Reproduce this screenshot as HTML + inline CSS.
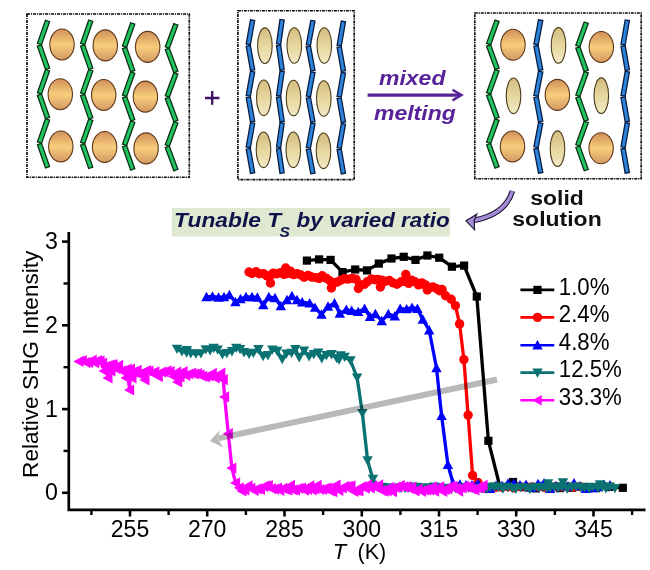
<!DOCTYPE html>
<html><head><meta charset="utf-8"><style>
html,body{margin:0;padding:0;background:#fff;width:650px;height:570px;overflow:hidden}
svg{display:block}
text{font-family:"Liberation Sans",sans-serif}
</style></head><body>
<svg width="650" height="570" viewBox="0 0 650 570"><defs>
<linearGradient id="gor" x1="0" y1="0" x2="0" y2="1">
<stop offset="0" stop-color="#d08f58"/><stop offset="0.5" stop-color="#f7cd7c"/><stop offset="1" stop-color="#d39862"/></linearGradient>
<linearGradient id="gbe" x1="0" y1="0" x2="0" y2="1">
<stop offset="0" stop-color="#d3bc80"/><stop offset="0.55" stop-color="#e8d9a2"/><stop offset="1" stop-color="#f2e9c6"/></linearGradient>
</defs><rect x="27" y="14" width="162.3" height="163.2" fill="none" stroke="#0a0a0a" stroke-width="1.65" stroke-dasharray="3 0.9 1.2 0.9"/>
<polygon points="45.5,20.2 37.4,43.4 41.5,44.8 49.6,21.6" fill="#22c462" stroke="#0a3014" stroke-width="1.3"/>
<polygon points="37.4,46.2 45.5,69.5 49.6,68 41.5,44.8" fill="#22c462" stroke="#0a3014" stroke-width="1.3"/>
<polygon points="45.5,69.5 37.4,92.7 41.5,94.1 49.6,70.9" fill="#22c462" stroke="#0a3014" stroke-width="1.3"/>
<polygon points="37.4,95.5 45.5,118.7 49.6,117.3 41.5,94.1" fill="#22c462" stroke="#0a3014" stroke-width="1.3"/>
<polygon points="45.5,118.7 37.4,141.9 41.5,143.4 49.6,120.1" fill="#22c462" stroke="#0a3014" stroke-width="1.3"/>
<polygon points="37.4,144.8 45.5,168 49.6,166.6 41.5,143.3" fill="#22c462" stroke="#0a3014" stroke-width="1.3"/>
<polygon points="88.7,20 80.6,43.3 84.7,44.7 92.8,21.4" fill="#22c462" stroke="#0a3014" stroke-width="1.3"/>
<polygon points="80.6,46.2 88.7,69.5 92.8,68.1 84.7,44.8" fill="#22c462" stroke="#0a3014" stroke-width="1.3"/>
<polygon points="88.7,69.5 80.6,92.8 84.7,94.2 92.8,70.9" fill="#22c462" stroke="#0a3014" stroke-width="1.3"/>
<polygon points="80.6,95.7 88.7,119 92.8,117.6 84.7,94.3" fill="#22c462" stroke="#0a3014" stroke-width="1.3"/>
<polygon points="88.7,119 80.6,142.3 84.7,143.7 92.8,120.4" fill="#22c462" stroke="#0a3014" stroke-width="1.3"/>
<polygon points="80.6,145.2 88.7,168.5 92.8,167.1 84.7,143.8" fill="#22c462" stroke="#0a3014" stroke-width="1.3"/>
<polygon points="130.7,22.7 122.5,45.8 126.6,47.3 134.8,24.1" fill="#22c462" stroke="#0a3014" stroke-width="1.3"/>
<polygon points="122.5,48.7 130.7,71.9 134.8,70.4 126.6,47.3" fill="#22c462" stroke="#0a3014" stroke-width="1.3"/>
<polygon points="130.7,71.8 122.5,95 126.6,96.4 134.8,73.3" fill="#22c462" stroke="#0a3014" stroke-width="1.3"/>
<polygon points="122.5,97.8 130.7,121 134.8,119.6 126.6,96.4" fill="#22c462" stroke="#0a3014" stroke-width="1.3"/>
<polygon points="130.7,121 122.5,144.1 126.6,145.6 134.8,122.4" fill="#22c462" stroke="#0a3014" stroke-width="1.3"/>
<polygon points="122.5,147 130.7,170.1 134.8,168.7 126.6,145.5" fill="#22c462" stroke="#0a3014" stroke-width="1.3"/>
<polygon points="173.9,23.6 165.3,46.7 169.3,48.3 177.9,25.2" fill="#22c462" stroke="#0a3014" stroke-width="1.3"/>
<polygon points="165.3,49.7 173.9,72.8 177.9,71.2 169.3,48.1" fill="#22c462" stroke="#0a3014" stroke-width="1.3"/>
<polygon points="173.9,72.6 165.3,95.7 169.3,97.3 177.9,74.2" fill="#22c462" stroke="#0a3014" stroke-width="1.3"/>
<polygon points="165.3,98.7 173.9,121.8 177.9,120.2 169.3,97.1" fill="#22c462" stroke="#0a3014" stroke-width="1.3"/>
<polygon points="173.9,121.6 165.3,144.7 169.3,146.3 177.9,123.2" fill="#22c462" stroke="#0a3014" stroke-width="1.3"/>
<polygon points="165.3,147.7 173.9,170.8 177.9,169.2 169.3,146.1" fill="#22c462" stroke="#0a3014" stroke-width="1.3"/>
<ellipse cx="62" cy="44.5" rx="12.2" ry="15.5" fill="url(#gor)" stroke="#5e3719" stroke-width="1.1"/>
<ellipse cx="105.3" cy="45.4" rx="12.2" ry="15.5" fill="url(#gor)" stroke="#5e3719" stroke-width="1.1"/>
<ellipse cx="147.7" cy="46.9" rx="12.2" ry="15.5" fill="url(#gor)" stroke="#5e3719" stroke-width="1.1"/>
<ellipse cx="60.3" cy="94.2" rx="12.2" ry="15.5" fill="url(#gor)" stroke="#5e3719" stroke-width="1.1"/>
<ellipse cx="103.7" cy="95" rx="12.2" ry="15.5" fill="url(#gor)" stroke="#5e3719" stroke-width="1.1"/>
<ellipse cx="145.4" cy="96.6" rx="12.2" ry="15.5" fill="url(#gor)" stroke="#5e3719" stroke-width="1.1"/>
<ellipse cx="60.8" cy="146.5" rx="12.2" ry="15.5" fill="url(#gor)" stroke="#5e3719" stroke-width="1.1"/>
<ellipse cx="104.6" cy="147" rx="12.2" ry="15.5" fill="url(#gor)" stroke="#5e3719" stroke-width="1.1"/>
<ellipse cx="146.1" cy="148.4" rx="12.2" ry="15.5" fill="url(#gor)" stroke="#5e3719" stroke-width="1.1"/>
<rect x="237.9" y="10.7" width="116.3" height="168.9" fill="none" stroke="#0a0a0a" stroke-width="1.65" stroke-dasharray="3 0.9 1.2 0.9"/>
<polygon points="250.5,19.8 246.2,44 250.4,44.8 254.7,20.5" fill="#2d84dc" stroke="#081c40" stroke-width="1.3"/>
<polygon points="246.2,46.2 250.5,70.5 254.7,69.8 250.4,45.5" fill="#2d84dc" stroke="#081c40" stroke-width="1.3"/>
<polygon points="250.5,71.2 246.2,95.5 250.4,96.2 254.7,72" fill="#2d84dc" stroke="#081c40" stroke-width="1.3"/>
<polygon points="246.2,97.7 250.5,122 254.7,121.2 250.4,97" fill="#2d84dc" stroke="#081c40" stroke-width="1.3"/>
<polygon points="250.5,122.7 246.2,146.9 250.4,147.7 254.7,123.4" fill="#2d84dc" stroke="#081c40" stroke-width="1.3"/>
<polygon points="246.2,149.2 250.5,173.4 254.7,172.7 250.4,148.4" fill="#2d84dc" stroke="#081c40" stroke-width="1.3"/>
<polygon points="280,19.4 276.5,43.8 280.7,44.4 284.2,20" fill="#2d84dc" stroke="#081c40" stroke-width="1.3"/>
<polygon points="276.5,45.8 280,70.2 284.2,69.6 280.7,45.2" fill="#2d84dc" stroke="#081c40" stroke-width="1.3"/>
<polygon points="280,71 276.5,95.4 280.7,96 284.2,71.6" fill="#2d84dc" stroke="#081c40" stroke-width="1.3"/>
<polygon points="276.5,97.4 280,121.8 284.2,121.2 280.7,96.8" fill="#2d84dc" stroke="#081c40" stroke-width="1.3"/>
<polygon points="280,122.6 276.5,147 280.7,147.6 284.2,123.2" fill="#2d84dc" stroke="#081c40" stroke-width="1.3"/>
<polygon points="276.5,149 280,173.4 284.2,172.8 280.7,148.4" fill="#2d84dc" stroke="#081c40" stroke-width="1.3"/>
<polygon points="310.8,20.4 306.3,44.6 310.5,45.3 315,21.1" fill="#2d84dc" stroke="#081c40" stroke-width="1.3"/>
<polygon points="306.3,46.8 310.8,71 315,70.3 310.5,46.1" fill="#2d84dc" stroke="#081c40" stroke-width="1.3"/>
<polygon points="310.8,71.8 306.3,96 310.5,96.7 315,72.5" fill="#2d84dc" stroke="#081c40" stroke-width="1.3"/>
<polygon points="306.3,98.2 310.8,122.4 315,121.7 310.5,97.5" fill="#2d84dc" stroke="#081c40" stroke-width="1.3"/>
<polygon points="310.8,123.2 306.3,147.4 310.5,148.1 315,123.9" fill="#2d84dc" stroke="#081c40" stroke-width="1.3"/>
<polygon points="306.3,149.6 310.8,173.8 315,173.1 310.5,148.9" fill="#2d84dc" stroke="#081c40" stroke-width="1.3"/>
<polygon points="341.3,21.1 337.1,45.2 341.3,45.9 345.5,21.8" fill="#2d84dc" stroke="#081c40" stroke-width="1.3"/>
<polygon points="337.1,47.4 341.3,71.5 345.5,70.8 341.3,46.7" fill="#2d84dc" stroke="#081c40" stroke-width="1.3"/>
<polygon points="341.3,72.3 337.1,96.4 341.3,97.1 345.5,73" fill="#2d84dc" stroke="#081c40" stroke-width="1.3"/>
<polygon points="337.1,98.6 341.3,122.7 345.5,122 341.3,97.9" fill="#2d84dc" stroke="#081c40" stroke-width="1.3"/>
<polygon points="341.3,123.5 337.1,147.6 341.3,148.3 345.5,124.2" fill="#2d84dc" stroke="#081c40" stroke-width="1.3"/>
<polygon points="337.1,149.8 341.3,173.9 345.5,173.2 341.3,149.1" fill="#2d84dc" stroke="#081c40" stroke-width="1.3"/>
<ellipse cx="264.9" cy="45.7" rx="7.3" ry="17.8" fill="url(#gbe)" stroke="#4a3a1a" stroke-width="1.1"/>
<ellipse cx="294.3" cy="45.5" rx="7.3" ry="17.8" fill="url(#gbe)" stroke="#4a3a1a" stroke-width="1.1"/>
<ellipse cx="324.3" cy="45.5" rx="7.3" ry="17.8" fill="url(#gbe)" stroke="#4a3a1a" stroke-width="1.1"/>
<ellipse cx="263.8" cy="97.8" rx="7.3" ry="17.8" fill="url(#gbe)" stroke="#4a3a1a" stroke-width="1.1"/>
<ellipse cx="293.5" cy="98" rx="7.3" ry="17.8" fill="url(#gbe)" stroke="#4a3a1a" stroke-width="1.1"/>
<ellipse cx="323.8" cy="98.5" rx="7.3" ry="17.8" fill="url(#gbe)" stroke="#4a3a1a" stroke-width="1.1"/>
<ellipse cx="263.5" cy="149.8" rx="7.3" ry="17.8" fill="url(#gbe)" stroke="#4a3a1a" stroke-width="1.1"/>
<ellipse cx="293.3" cy="149.8" rx="7.3" ry="17.8" fill="url(#gbe)" stroke="#4a3a1a" stroke-width="1.1"/>
<ellipse cx="323.5" cy="150.8" rx="7.3" ry="17.8" fill="url(#gbe)" stroke="#4a3a1a" stroke-width="1.1"/>
<rect x="474.8" y="13" width="166.4" height="165.7" fill="none" stroke="#0a0a0a" stroke-width="1.65" stroke-dasharray="3 0.9 1.2 0.9"/>
<polygon points="495,20.1 486.6,43.3 490.7,44.8 499.1,21.5" fill="#22c462" stroke="#0a3014" stroke-width="1.3"/>
<polygon points="486.6,46.2 495,69.5 499.1,68 490.7,44.8" fill="#22c462" stroke="#0a3014" stroke-width="1.3"/>
<polygon points="495,69.4 486.6,92.7 490.7,94.2 499.1,70.9" fill="#22c462" stroke="#0a3014" stroke-width="1.3"/>
<polygon points="486.6,95.6 495,118.8 499.1,117.4 490.7,94.1" fill="#22c462" stroke="#0a3014" stroke-width="1.3"/>
<polygon points="495,118.8 486.6,142.1 490.7,143.5 499.1,120.3" fill="#22c462" stroke="#0a3014" stroke-width="1.3"/>
<polygon points="486.6,144.9 495,168.2 499.1,166.7 490.7,143.5" fill="#22c462" stroke="#0a3014" stroke-width="1.3"/>
<polygon points="538.5,19.8 533.9,44 538.2,44.8 542.8,20.6" fill="#2d84dc" stroke="#081c40" stroke-width="1.3"/>
<polygon points="533.9,46.3 538.5,70.5 542.8,69.7 538.2,45.5" fill="#2d84dc" stroke="#081c40" stroke-width="1.3"/>
<polygon points="538.5,71.2 533.9,95.4 538.2,96.2 542.8,72" fill="#2d84dc" stroke="#081c40" stroke-width="1.3"/>
<polygon points="533.9,97.7 538.5,121.9 542.8,121.1 538.2,96.9" fill="#2d84dc" stroke="#081c40" stroke-width="1.3"/>
<polygon points="538.5,122.6 533.9,146.8 538.2,147.6 542.8,123.4" fill="#2d84dc" stroke="#081c40" stroke-width="1.3"/>
<polygon points="533.9,149 538.5,173.2 542.8,172.4 538.2,148.2" fill="#2d84dc" stroke="#081c40" stroke-width="1.3"/>
<polygon points="584.2,22 575.8,45.4 579.9,46.8 588.3,23.4" fill="#22c462" stroke="#0a3014" stroke-width="1.3"/>
<polygon points="575.8,48.2 584.2,71.6 588.3,70.2 579.9,46.8" fill="#22c462" stroke="#0a3014" stroke-width="1.3"/>
<polygon points="584.2,71.6 575.8,95 579.9,96.4 588.3,73" fill="#22c462" stroke="#0a3014" stroke-width="1.3"/>
<polygon points="575.8,97.8 584.2,121.2 588.3,119.8 579.9,96.4" fill="#22c462" stroke="#0a3014" stroke-width="1.3"/>
<polygon points="584.2,121.2 575.8,144.6 579.9,146 588.3,122.6" fill="#22c462" stroke="#0a3014" stroke-width="1.3"/>
<polygon points="575.8,147.4 584.2,170.8 588.3,169.4 579.9,146" fill="#22c462" stroke="#0a3014" stroke-width="1.3"/>
<polygon points="625.2,19.9 621,44.1 625.2,44.8 629.4,20.6" fill="#2d84dc" stroke="#081c40" stroke-width="1.3"/>
<polygon points="621,46.3 625.2,70.5 629.4,69.8 625.2,45.6" fill="#2d84dc" stroke="#081c40" stroke-width="1.3"/>
<polygon points="625.2,71.2 621,95.4 625.2,96.2 629.4,72" fill="#2d84dc" stroke="#081c40" stroke-width="1.3"/>
<polygon points="621,97.6 625.2,121.8 629.4,121.1 625.2,96.9" fill="#2d84dc" stroke="#081c40" stroke-width="1.3"/>
<polygon points="625.2,122.6 621,146.8 625.2,147.5 629.4,123.3" fill="#2d84dc" stroke="#081c40" stroke-width="1.3"/>
<polygon points="621,149 625.2,173.2 629.4,172.5 625.2,148.3" fill="#2d84dc" stroke="#081c40" stroke-width="1.3"/>
<ellipse cx="513" cy="44.8" rx="12.2" ry="15.5" fill="url(#gor)" stroke="#5e3719" stroke-width="1.1"/>
<ellipse cx="558.5" cy="45.4" rx="7.3" ry="17.8" fill="url(#gbe)" stroke="#4a3a1a" stroke-width="1.1"/>
<ellipse cx="601.3" cy="47" rx="12.2" ry="15.5" fill="url(#gor)" stroke="#5e3719" stroke-width="1.1"/>
<ellipse cx="513.5" cy="95.8" rx="7.3" ry="17.8" fill="url(#gbe)" stroke="#4a3a1a" stroke-width="1.1"/>
<ellipse cx="557.4" cy="94.9" rx="12.2" ry="15.5" fill="url(#gor)" stroke="#5e3719" stroke-width="1.1"/>
<ellipse cx="601.3" cy="95.7" rx="7.3" ry="17.8" fill="url(#gbe)" stroke="#4a3a1a" stroke-width="1.1"/>
<ellipse cx="512.5" cy="146.5" rx="12.2" ry="15.5" fill="url(#gor)" stroke="#5e3719" stroke-width="1.1"/>
<ellipse cx="557.5" cy="148.7" rx="7.3" ry="17.8" fill="url(#gbe)" stroke="#4a3a1a" stroke-width="1.1"/>
<ellipse cx="601.1" cy="148.3" rx="12.2" ry="15.5" fill="url(#gor)" stroke="#5e3719" stroke-width="1.1"/>
<path d="M205 98H219.4M212.2 91V104.8" stroke="#3d1266" stroke-width="2.3" fill="none"/>
<path d="M367.6 95.1H461" stroke="#58239a" stroke-width="3.2" fill="none"/>
<path d="M452.5 89.8L461.5 95.1L452.5 100.4" stroke="#58239a" stroke-width="2.4" fill="none" stroke-linejoin="miter"/>
<text transform="translate(379,84.8) scale(1,0.89)" font-family="Liberation Sans" font-weight="bold" font-style="italic" font-size="23" fill="#58239a">mixed</text>
<text transform="translate(374,119.5) scale(1,0.89)" font-family="Liberation Sans" font-weight="bold" font-style="italic" font-size="23" fill="#58239a">melting</text>
<text transform="translate(557,204.5) scale(1,0.91)" text-anchor="middle" font-family="Liberation Sans" font-weight="bold" font-size="23" fill="#111">solid</text>
<text transform="translate(557,225.6) scale(1,0.91)" text-anchor="middle" font-family="Liberation Sans" font-weight="bold" font-size="23" fill="#111">solution</text>
<path d="M512.4 191C508.5 204 499 216 473 220.5" stroke="#1a1030" stroke-width="5.6" fill="none"/>
<path d="M512.4 191C508.5 204 499 216 473 220.5" stroke="#a58ad6" stroke-width="3.4" fill="none"/>
<polygon points="466,220.8 476.8,214.2 474.2,220.4 474.6,229.8" fill="#a58ad6" stroke="#1a1030" stroke-width="1.1" stroke-linejoin="miter"/>
<rect x="171.8" y="208" width="278.2" height="28.5" fill="#dfe9d2"/>
<text transform="translate(174,227.3) scale(1,0.91)" font-family="Liberation Sans" font-weight="bold" font-style="italic" font-size="22.8" fill="#10124a">Tunable T</text>
<text x="279.5" y="237" font-family="Liberation Sans" font-weight="bold" font-style="italic" font-size="15.5" fill="#10124a">S</text>
<text transform="translate(296.5,227.3) scale(1,0.91)" font-family="Liberation Sans" font-weight="bold" font-style="italic" font-size="22.4" fill="#10124a">by varied ratio</text>
<path d="M68.8 232V509.8H645.5" stroke="#000" stroke-width="2.7" fill="none"/>
<path d="M62 492.8H68.8" stroke="#000" stroke-width="2.6"/>
<text x="58" y="500.4" text-anchor="end" font-family="Liberation Sans" font-size="23.2" fill="#000">0</text>
<path d="M62 409.1H68.8" stroke="#000" stroke-width="2.6"/>
<text x="58" y="416.7" text-anchor="end" font-family="Liberation Sans" font-size="23.2" fill="#000">1</text>
<path d="M62 325.3H68.8" stroke="#000" stroke-width="2.6"/>
<text x="58" y="332.9" text-anchor="end" font-family="Liberation Sans" font-size="23.2" fill="#000">2</text>
<path d="M62 241.6H68.8" stroke="#000" stroke-width="2.6"/>
<text x="58" y="249.2" text-anchor="end" font-family="Liberation Sans" font-size="23.2" fill="#000">3</text>
<path d="M63.5 450.9H68.8" stroke="#000" stroke-width="2.4"/>
<path d="M63.5 367.2H68.8" stroke="#000" stroke-width="2.4"/>
<path d="M63.5 283.5H68.8" stroke="#000" stroke-width="2.4"/>
<path d="M130 509.8V516.5" stroke="#000" stroke-width="2.6"/>
<text x="130" y="536.5" text-anchor="middle" font-family="Liberation Sans" font-size="23" fill="#000">255</text>
<path d="M207.2 509.8V516.5" stroke="#000" stroke-width="2.6"/>
<text x="207.2" y="536.5" text-anchor="middle" font-family="Liberation Sans" font-size="23" fill="#000">270</text>
<path d="M284.5 509.8V516.5" stroke="#000" stroke-width="2.6"/>
<text x="284.5" y="536.5" text-anchor="middle" font-family="Liberation Sans" font-size="23" fill="#000">285</text>
<path d="M361.8 509.8V516.5" stroke="#000" stroke-width="2.6"/>
<text x="361.8" y="536.5" text-anchor="middle" font-family="Liberation Sans" font-size="23" fill="#000">300</text>
<path d="M439 509.8V516.5" stroke="#000" stroke-width="2.6"/>
<text x="439" y="536.5" text-anchor="middle" font-family="Liberation Sans" font-size="23" fill="#000">315</text>
<path d="M516.2 509.8V516.5" stroke="#000" stroke-width="2.6"/>
<text x="516.2" y="536.5" text-anchor="middle" font-family="Liberation Sans" font-size="23" fill="#000">330</text>
<path d="M593.5 509.8V516.5" stroke="#000" stroke-width="2.6"/>
<text x="593.5" y="536.5" text-anchor="middle" font-family="Liberation Sans" font-size="23" fill="#000">345</text>
<path d="M91.4 509.8V515" stroke="#000" stroke-width="2.4"/>
<path d="M168.6 509.8V515" stroke="#000" stroke-width="2.4"/>
<path d="M245.9 509.8V515" stroke="#000" stroke-width="2.4"/>
<path d="M323.1 509.8V515" stroke="#000" stroke-width="2.4"/>
<path d="M400.4 509.8V515" stroke="#000" stroke-width="2.4"/>
<path d="M477.6 509.8V515" stroke="#000" stroke-width="2.4"/>
<path d="M554.9 509.8V515" stroke="#000" stroke-width="2.4"/>
<path d="M632.1 509.8V515" stroke="#000" stroke-width="2.4"/>
<text x="332.8" y="559" font-family="Liberation Sans" font-style="italic" font-size="22" fill="#000">T</text>
<text x="357.5" y="559" font-family="Liberation Sans" font-size="21.5" fill="#000">(K)</text>
<text transform="translate(37.5,364.3) rotate(-90)" text-anchor="middle" font-family="Liberation Sans" font-size="22.6" fill="#000">Relative SHG Intensity</text>
<g>
<polyline points="306.9,260.6 319.1,259.4 330.6,259.9 342.5,272.1 355.2,269.5 367,270.4 378.8,263.6 391.5,258.5 403.7,256.8 415.5,259.9 427.4,255.5 439.2,257.7 451.9,266.7 464.1,265.6 476.8,296.5 488.4,440.8 500,487 513,482 524,487.2 536,488.4 548,487 560,488.1 572,487.7 584,486.9 596,488 609,486.9 622.8,487.8" fill="none" stroke="#000" stroke-width="3.3" stroke-linejoin="round"/>
<rect x="302.8" y="256.5" width="8.2" height="8.2" fill="#000"/>
<rect x="315" y="255.3" width="8.2" height="8.2" fill="#000"/>
<rect x="326.5" y="255.8" width="8.2" height="8.2" fill="#000"/>
<rect x="338.4" y="268" width="8.2" height="8.2" fill="#000"/>
<rect x="351.1" y="265.4" width="8.2" height="8.2" fill="#000"/>
<rect x="362.9" y="266.3" width="8.2" height="8.2" fill="#000"/>
<rect x="374.7" y="259.5" width="8.2" height="8.2" fill="#000"/>
<rect x="387.4" y="254.4" width="8.2" height="8.2" fill="#000"/>
<rect x="399.6" y="252.7" width="8.2" height="8.2" fill="#000"/>
<rect x="411.4" y="255.8" width="8.2" height="8.2" fill="#000"/>
<rect x="423.3" y="251.4" width="8.2" height="8.2" fill="#000"/>
<rect x="435.1" y="253.6" width="8.2" height="8.2" fill="#000"/>
<rect x="447.8" y="262.6" width="8.2" height="8.2" fill="#000"/>
<rect x="460" y="261.5" width="8.2" height="8.2" fill="#000"/>
<rect x="472.7" y="292.4" width="8.2" height="8.2" fill="#000"/>
<rect x="484.3" y="436.7" width="8.2" height="8.2" fill="#000"/>
<rect x="495.9" y="482.9" width="8.2" height="8.2" fill="#000"/>
<rect x="508.9" y="477.9" width="8.2" height="8.2" fill="#000"/>
<rect x="519.9" y="483.1" width="8.2" height="8.2" fill="#000"/>
<rect x="531.9" y="484.3" width="8.2" height="8.2" fill="#000"/>
<rect x="543.9" y="482.9" width="8.2" height="8.2" fill="#000"/>
<rect x="555.9" y="484" width="8.2" height="8.2" fill="#000"/>
<rect x="567.9" y="483.6" width="8.2" height="8.2" fill="#000"/>
<rect x="579.9" y="482.8" width="8.2" height="8.2" fill="#000"/>
<rect x="591.9" y="483.9" width="8.2" height="8.2" fill="#000"/>
<rect x="604.9" y="482.8" width="8.2" height="8.2" fill="#000"/>
<rect x="618.7" y="483.7" width="8.2" height="8.2" fill="#000"/>
<polyline points="249,272 252,273.4 256.1,271.7 259.3,273.8 263.5,273.6 267,276 269.9,275.9 270.5,283 273.2,273.1 276.3,273.9 280.3,272.8 284,274.4 285.7,268 287.5,273.6 290.4,271.1 293.6,274.6 297.1,273.6 300.8,275 304.1,277.2 308,275.4 311.7,277 315.9,277.6 319.2,278.4 322.2,275.8 326.2,278.1 329.8,280.7 331.4,288 333.6,282.9 337.3,282 340.7,280.2 344.4,278.8 347.9,279.1 352.2,278.4 356,279.2 358.4,288.5 359.9,284.6 364.2,284.4 367.5,281.6 371.3,279 374.9,279.7 377.9,279.4 380.4,287 381.9,280.1 385.1,281.5 389.3,280.4 392.8,282.7 397,284.3 401.1,281.8 404.6,281.4 405.8,274.5 408.7,283.4 411.8,280.2 415,281.8 418.6,284.9 421.9,282.9 425.4,284.9 427.4,290 429,288 432.9,286.9 436.7,288.8 439.6,290.7 442.1,289.5 445.6,295.8 451.2,299.3 455.4,305.6 459.6,323.9 463.9,359.6 468.1,415.1 472.6,475.4 478,482.5 484,488.2 490,488.1 496,487.3 502,487.3 508,486.7 514,487.8 520,486.6 526,486.6 532,486.9 538,486.8 544,487.2 550,486.6 556,486.5 562,486.8 568,486.7 574,487.2 580,486.6 586,488.2 592,487.7 598,486.8" fill="none" stroke="#f00" stroke-width="3.3" stroke-linejoin="round"/>
<circle cx="249" cy="272" r="4.7" fill="#f00"/>
<circle cx="252" cy="273.4" r="4.7" fill="#f00"/>
<circle cx="256.1" cy="271.7" r="4.7" fill="#f00"/>
<circle cx="259.3" cy="273.8" r="4.7" fill="#f00"/>
<circle cx="263.5" cy="273.6" r="4.7" fill="#f00"/>
<circle cx="267" cy="276" r="4.7" fill="#f00"/>
<circle cx="269.9" cy="275.9" r="4.7" fill="#f00"/>
<circle cx="270.5" cy="283" r="4.7" fill="#f00"/>
<circle cx="273.2" cy="273.1" r="4.7" fill="#f00"/>
<circle cx="276.3" cy="273.9" r="4.7" fill="#f00"/>
<circle cx="280.3" cy="272.8" r="4.7" fill="#f00"/>
<circle cx="284" cy="274.4" r="4.7" fill="#f00"/>
<circle cx="285.7" cy="268" r="4.7" fill="#f00"/>
<circle cx="287.5" cy="273.6" r="4.7" fill="#f00"/>
<circle cx="290.4" cy="271.1" r="4.7" fill="#f00"/>
<circle cx="293.6" cy="274.6" r="4.7" fill="#f00"/>
<circle cx="297.1" cy="273.6" r="4.7" fill="#f00"/>
<circle cx="300.8" cy="275" r="4.7" fill="#f00"/>
<circle cx="304.1" cy="277.2" r="4.7" fill="#f00"/>
<circle cx="308" cy="275.4" r="4.7" fill="#f00"/>
<circle cx="311.7" cy="277" r="4.7" fill="#f00"/>
<circle cx="315.9" cy="277.6" r="4.7" fill="#f00"/>
<circle cx="319.2" cy="278.4" r="4.7" fill="#f00"/>
<circle cx="322.2" cy="275.8" r="4.7" fill="#f00"/>
<circle cx="326.2" cy="278.1" r="4.7" fill="#f00"/>
<circle cx="329.8" cy="280.7" r="4.7" fill="#f00"/>
<circle cx="331.4" cy="288" r="4.7" fill="#f00"/>
<circle cx="333.6" cy="282.9" r="4.7" fill="#f00"/>
<circle cx="337.3" cy="282" r="4.7" fill="#f00"/>
<circle cx="340.7" cy="280.2" r="4.7" fill="#f00"/>
<circle cx="344.4" cy="278.8" r="4.7" fill="#f00"/>
<circle cx="347.9" cy="279.1" r="4.7" fill="#f00"/>
<circle cx="352.2" cy="278.4" r="4.7" fill="#f00"/>
<circle cx="356" cy="279.2" r="4.7" fill="#f00"/>
<circle cx="358.4" cy="288.5" r="4.7" fill="#f00"/>
<circle cx="359.9" cy="284.6" r="4.7" fill="#f00"/>
<circle cx="364.2" cy="284.4" r="4.7" fill="#f00"/>
<circle cx="367.5" cy="281.6" r="4.7" fill="#f00"/>
<circle cx="371.3" cy="279" r="4.7" fill="#f00"/>
<circle cx="374.9" cy="279.7" r="4.7" fill="#f00"/>
<circle cx="377.9" cy="279.4" r="4.7" fill="#f00"/>
<circle cx="380.4" cy="287" r="4.7" fill="#f00"/>
<circle cx="381.9" cy="280.1" r="4.7" fill="#f00"/>
<circle cx="385.1" cy="281.5" r="4.7" fill="#f00"/>
<circle cx="389.3" cy="280.4" r="4.7" fill="#f00"/>
<circle cx="392.8" cy="282.7" r="4.7" fill="#f00"/>
<circle cx="397" cy="284.3" r="4.7" fill="#f00"/>
<circle cx="401.1" cy="281.8" r="4.7" fill="#f00"/>
<circle cx="404.6" cy="281.4" r="4.7" fill="#f00"/>
<circle cx="405.8" cy="274.5" r="4.7" fill="#f00"/>
<circle cx="408.7" cy="283.4" r="4.7" fill="#f00"/>
<circle cx="411.8" cy="280.2" r="4.7" fill="#f00"/>
<circle cx="415" cy="281.8" r="4.7" fill="#f00"/>
<circle cx="418.6" cy="284.9" r="4.7" fill="#f00"/>
<circle cx="421.9" cy="282.9" r="4.7" fill="#f00"/>
<circle cx="425.4" cy="284.9" r="4.7" fill="#f00"/>
<circle cx="427.4" cy="290" r="4.7" fill="#f00"/>
<circle cx="429" cy="288" r="4.7" fill="#f00"/>
<circle cx="432.9" cy="286.9" r="4.7" fill="#f00"/>
<circle cx="436.7" cy="288.8" r="4.7" fill="#f00"/>
<circle cx="439.6" cy="290.7" r="4.7" fill="#f00"/>
<circle cx="442.1" cy="289.5" r="4.7" fill="#f00"/>
<circle cx="445.6" cy="295.8" r="4.7" fill="#f00"/>
<circle cx="451.2" cy="299.3" r="4.7" fill="#f00"/>
<circle cx="455.4" cy="305.6" r="4.7" fill="#f00"/>
<circle cx="459.6" cy="323.9" r="4.7" fill="#f00"/>
<circle cx="463.9" cy="359.6" r="4.7" fill="#f00"/>
<circle cx="468.1" cy="415.1" r="4.7" fill="#f00"/>
<circle cx="472.6" cy="475.4" r="4.7" fill="#f00"/>
<circle cx="478" cy="482.5" r="4.7" fill="#f00"/>
<circle cx="484" cy="488.2" r="4.7" fill="#f00"/>
<circle cx="490" cy="488.1" r="4.7" fill="#f00"/>
<circle cx="496" cy="487.3" r="4.7" fill="#f00"/>
<circle cx="502" cy="487.3" r="4.7" fill="#f00"/>
<circle cx="508" cy="486.7" r="4.7" fill="#f00"/>
<circle cx="514" cy="487.8" r="4.7" fill="#f00"/>
<circle cx="520" cy="486.6" r="4.7" fill="#f00"/>
<circle cx="526" cy="486.6" r="4.7" fill="#f00"/>
<circle cx="532" cy="486.9" r="4.7" fill="#f00"/>
<circle cx="538" cy="486.8" r="4.7" fill="#f00"/>
<circle cx="544" cy="487.2" r="4.7" fill="#f00"/>
<circle cx="550" cy="486.6" r="4.7" fill="#f00"/>
<circle cx="556" cy="486.5" r="4.7" fill="#f00"/>
<circle cx="562" cy="486.8" r="4.7" fill="#f00"/>
<circle cx="568" cy="486.7" r="4.7" fill="#f00"/>
<circle cx="574" cy="487.2" r="4.7" fill="#f00"/>
<circle cx="580" cy="486.6" r="4.7" fill="#f00"/>
<circle cx="586" cy="488.2" r="4.7" fill="#f00"/>
<circle cx="592" cy="487.7" r="4.7" fill="#f00"/>
<circle cx="598" cy="486.8" r="4.7" fill="#f00"/>
<polyline points="206.5,297 212.5,296.5 218.5,297.5 224,297 229.4,295 235.4,302 240.5,299 246,297 252,297 257.4,297.5 263.3,305 268.8,297 275,298 280.8,306 287,300 291.9,296 297,300 302.2,302.2 309.7,303.3 315,307.6 321.5,314.5 328,306.5 334.5,303.3 339.8,313.5 346.3,309.8 351.7,310.8 358.2,311.9 364.6,308.7 370,316.8 375.4,314 381.8,321 388.3,314 394.8,316.2 400.2,308.7 406.6,309.1 412,307.6 417.4,308.7 422.8,319.5 429.2,330.2 436.5,368 441.6,415.8 447.9,464.7 453,483 460,484.5 466,485.1 472,485.2 478,483.7 484,488.1 490,489 496,485.8 502,485.9 508,483.5 514,483.6 520,485.1 526,484.6 532,488 538,484 544,483.1 550,488.7 556,486.2 562,483.9 568,486.3 574,483.2 580,486.2 586,488.9 592,488.2 598,487.2 604,484.6 610,485.2" fill="none" stroke="#00f" stroke-width="3.3" stroke-linejoin="round"/>
<polygon points="206.5,291.8 211.7,301.2 201.3,301.2" fill="#00f"/>
<polygon points="212.5,291.3 217.7,300.7 207.3,300.7" fill="#00f"/>
<polygon points="218.5,292.3 223.7,301.7 213.3,301.7" fill="#00f"/>
<polygon points="224,291.8 229.2,301.2 218.8,301.2" fill="#00f"/>
<polygon points="229.4,289.8 234.6,299.2 224.2,299.2" fill="#00f"/>
<polygon points="235.4,296.8 240.6,306.2 230.2,306.2" fill="#00f"/>
<polygon points="240.5,293.8 245.7,303.2 235.3,303.2" fill="#00f"/>
<polygon points="246,291.8 251.2,301.2 240.8,301.2" fill="#00f"/>
<polygon points="252,291.8 257.2,301.2 246.8,301.2" fill="#00f"/>
<polygon points="257.4,292.3 262.6,301.7 252.2,301.7" fill="#00f"/>
<polygon points="263.3,299.8 268.5,309.2 258.1,309.2" fill="#00f"/>
<polygon points="268.8,291.8 274,301.2 263.6,301.2" fill="#00f"/>
<polygon points="275,292.8 280.2,302.2 269.8,302.2" fill="#00f"/>
<polygon points="280.8,300.8 286,310.2 275.6,310.2" fill="#00f"/>
<polygon points="287,294.8 292.2,304.2 281.8,304.2" fill="#00f"/>
<polygon points="291.9,290.8 297.1,300.2 286.7,300.2" fill="#00f"/>
<polygon points="297,294.8 302.2,304.2 291.8,304.2" fill="#00f"/>
<polygon points="302.2,297 307.4,306.4 297,306.4" fill="#00f"/>
<polygon points="309.7,298.1 314.9,307.5 304.5,307.5" fill="#00f"/>
<polygon points="315,302.4 320.2,311.8 309.8,311.8" fill="#00f"/>
<polygon points="321.5,309.3 326.7,318.7 316.3,318.7" fill="#00f"/>
<polygon points="328,301.3 333.2,310.7 322.8,310.7" fill="#00f"/>
<polygon points="334.5,298.1 339.7,307.5 329.3,307.5" fill="#00f"/>
<polygon points="339.8,308.3 345,317.7 334.6,317.7" fill="#00f"/>
<polygon points="346.3,304.6 351.5,314 341.1,314" fill="#00f"/>
<polygon points="351.7,305.6 356.9,315 346.5,315" fill="#00f"/>
<polygon points="358.2,306.7 363.4,316.1 353,316.1" fill="#00f"/>
<polygon points="364.6,303.5 369.8,312.9 359.4,312.9" fill="#00f"/>
<polygon points="370,311.6 375.2,321 364.8,321" fill="#00f"/>
<polygon points="375.4,308.8 380.6,318.2 370.2,318.2" fill="#00f"/>
<polygon points="381.8,315.8 387,325.2 376.6,325.2" fill="#00f"/>
<polygon points="388.3,308.8 393.5,318.2 383.1,318.2" fill="#00f"/>
<polygon points="394.8,311 400,320.4 389.6,320.4" fill="#00f"/>
<polygon points="400.2,303.5 405.4,312.9 395,312.9" fill="#00f"/>
<polygon points="406.6,303.9 411.8,313.3 401.4,313.3" fill="#00f"/>
<polygon points="412,302.4 417.2,311.8 406.8,311.8" fill="#00f"/>
<polygon points="417.4,303.5 422.6,312.9 412.2,312.9" fill="#00f"/>
<polygon points="422.8,314.3 428,323.7 417.6,323.7" fill="#00f"/>
<polygon points="429.2,325 434.4,334.4 424,334.4" fill="#00f"/>
<polygon points="436.5,362.8 441.7,372.2 431.3,372.2" fill="#00f"/>
<polygon points="441.6,410.6 446.8,420 436.4,420" fill="#00f"/>
<polygon points="447.9,459.5 453.1,468.9 442.7,468.9" fill="#00f"/>
<polygon points="453,477.8 458.2,487.2 447.8,487.2" fill="#00f"/>
<polygon points="460,479.3 465.2,488.7 454.8,488.7" fill="#00f"/>
<polygon points="466,479.9 471.2,489.2 460.8,489.2" fill="#00f"/>
<polygon points="472,480 477.2,489.3 466.8,489.3" fill="#00f"/>
<polygon points="478,478.5 483.2,487.9 472.8,487.9" fill="#00f"/>
<polygon points="484,482.9 489.2,492.3 478.8,492.3" fill="#00f"/>
<polygon points="490,483.8 495.2,493.1 484.8,493.1" fill="#00f"/>
<polygon points="496,480.6 501.2,490 490.8,490" fill="#00f"/>
<polygon points="502,480.7 507.2,490.1 496.8,490.1" fill="#00f"/>
<polygon points="508,478.3 513.2,487.7 502.8,487.7" fill="#00f"/>
<polygon points="514,478.4 519.2,487.8 508.8,487.8" fill="#00f"/>
<polygon points="520,479.9 525.2,489.2 514.8,489.2" fill="#00f"/>
<polygon points="526,479.4 531.2,488.7 520.8,488.7" fill="#00f"/>
<polygon points="532,482.8 537.2,492.1 526.8,492.1" fill="#00f"/>
<polygon points="538,478.8 543.2,488.1 532.8,488.1" fill="#00f"/>
<polygon points="544,477.9 549.2,487.3 538.8,487.3" fill="#00f"/>
<polygon points="550,483.5 555.2,492.9 544.8,492.9" fill="#00f"/>
<polygon points="556,481 561.2,490.3 550.8,490.3" fill="#00f"/>
<polygon points="562,478.7 567.2,488 556.8,488" fill="#00f"/>
<polygon points="568,481.1 573.2,490.4 562.8,490.4" fill="#00f"/>
<polygon points="574,478 579.2,487.3 568.8,487.3" fill="#00f"/>
<polygon points="580,481 585.2,490.3 574.8,490.3" fill="#00f"/>
<polygon points="586,483.7 591.2,493 580.8,493" fill="#00f"/>
<polygon points="592,483 597.2,492.3 586.8,492.3" fill="#00f"/>
<polygon points="598,482 603.2,491.3 592.8,491.3" fill="#00f"/>
<polygon points="604,479.4 609.2,488.7 598.8,488.7" fill="#00f"/>
<polygon points="610,480 615.2,489.4 604.8,489.4" fill="#00f"/>
<polyline points="177,348.9 181.9,351.4 186.5,352.5 186.8,350 190.7,353.3 195.9,353.6 200.9,353.4 205.7,349.3 210.1,350.2 213.7,348 217.7,349.6 222.4,354.3 226.8,353.1 232,351.3 236.2,347.9 240.1,349.1 244,352.2 249.1,353.9 253.4,352.8 258.4,349.2 263.1,356.1 268,355.2 272.3,349.6 277.2,351 282.2,359 286.4,353.5 291.6,352.9 295.4,349.2 299.2,357.2 304.1,350.6 309.1,356.4 313.8,354 318.2,352.7 321.8,358.4 326.4,355.2 331.6,354.3 336.7,358.1 339,359.5 340.6,355.4 344.6,356.8 350.5,360.5 357.1,377.6 362.4,413.2 367.6,460.5 372.9,479 378,487.2 382.1,486.8 387,487.4 391.1,488 396,487.6 400.9,487.8 405.1,487.9 408.5,487.6 412.2,486.5 416.9,486.9 421,488.4 425.3,487.3 429.6,487.9 434.2,486.8 438.5,487.1 442.4,488.5 446.6,488 451.2,488.9 455.3,488.1 459.5,487.8 464.1,487.7 468.3,487.7 473.2,488.3 478.1,488.9 481.9,488 486.8,488.7 490.4,486.8 494.5,486.7 498.3,486.7 502.8,488.5 507.6,486.9 512.2,488.2 515.8,488.8 520.8,487.1 525.7,487.5 529.9,489.1 534.7,486.9 538.8,487.8 542.7,487 546.6,488.4 548,483.5 550,487.9 554.1,486.5 558,488.1 562.2,486.7 563,482.5 567.2,488.5 572.2,486.8 576,486.6 580.7,487.2 584.3,487.6 589.2,488.6 593,486.9 597.9,488 600,484.5 602.4,486.7 605.9,488.3 609.9,486.7 614.9,488.1" fill="none" stroke="#0b7272" stroke-width="3.3" stroke-linejoin="round"/>
<polygon points="177,354.1 182.2,344.8 171.8,344.8" fill="#0b7272"/>
<polygon points="181.9,356.6 187.1,347.3 176.7,347.3" fill="#0b7272"/>
<polygon points="186.5,357.7 191.7,348.3 181.3,348.3" fill="#0b7272"/>
<polygon points="186.8,355.2 192,345.9 181.6,345.9" fill="#0b7272"/>
<polygon points="190.7,358.5 195.9,349.2 185.5,349.2" fill="#0b7272"/>
<polygon points="195.9,358.8 201.1,349.4 190.7,349.4" fill="#0b7272"/>
<polygon points="200.9,358.6 206.1,349.2 195.7,349.2" fill="#0b7272"/>
<polygon points="205.7,354.5 210.9,345.2 200.5,345.2" fill="#0b7272"/>
<polygon points="210.1,355.4 215.3,346.1 204.9,346.1" fill="#0b7272"/>
<polygon points="213.7,353.2 218.9,343.8 208.5,343.8" fill="#0b7272"/>
<polygon points="217.7,354.8 222.9,345.4 212.5,345.4" fill="#0b7272"/>
<polygon points="222.4,359.5 227.6,350.1 217.2,350.1" fill="#0b7272"/>
<polygon points="226.8,358.3 232,349 221.6,349" fill="#0b7272"/>
<polygon points="232,356.5 237.2,347.1 226.8,347.1" fill="#0b7272"/>
<polygon points="236.2,353.1 241.4,343.7 231,343.7" fill="#0b7272"/>
<polygon points="240.1,354.3 245.3,345 234.9,345" fill="#0b7272"/>
<polygon points="244,357.4 249.2,348.1 238.8,348.1" fill="#0b7272"/>
<polygon points="249.1,359.1 254.3,349.7 243.9,349.7" fill="#0b7272"/>
<polygon points="253.4,358 258.6,348.7 248.2,348.7" fill="#0b7272"/>
<polygon points="258.4,354.4 263.6,345 253.2,345" fill="#0b7272"/>
<polygon points="263.1,361.3 268.3,351.9 257.9,351.9" fill="#0b7272"/>
<polygon points="268,360.4 273.2,351 262.8,351" fill="#0b7272"/>
<polygon points="272.3,354.8 277.5,345.5 267.1,345.5" fill="#0b7272"/>
<polygon points="277.2,356.2 282.4,346.8 272,346.8" fill="#0b7272"/>
<polygon points="282.2,364.2 287.4,354.8 277,354.8" fill="#0b7272"/>
<polygon points="286.4,358.7 291.6,349.4 281.2,349.4" fill="#0b7272"/>
<polygon points="291.6,358.1 296.8,348.8 286.4,348.8" fill="#0b7272"/>
<polygon points="295.4,354.4 300.6,345 290.2,345" fill="#0b7272"/>
<polygon points="299.2,362.4 304.4,353.1 294,353.1" fill="#0b7272"/>
<polygon points="304.1,355.8 309.3,346.4 298.9,346.4" fill="#0b7272"/>
<polygon points="309.1,361.6 314.3,352.3 303.9,352.3" fill="#0b7272"/>
<polygon points="313.8,359.2 319,349.9 308.6,349.9" fill="#0b7272"/>
<polygon points="318.2,357.9 323.4,348.5 313,348.5" fill="#0b7272"/>
<polygon points="321.8,363.6 327,354.2 316.6,354.2" fill="#0b7272"/>
<polygon points="326.4,360.4 331.6,351 321.2,351" fill="#0b7272"/>
<polygon points="331.6,359.5 336.8,350.1 326.4,350.1" fill="#0b7272"/>
<polygon points="336.7,363.3 341.9,354 331.5,354" fill="#0b7272"/>
<polygon points="339,364.7 344.2,355.3 333.8,355.3" fill="#0b7272"/>
<polygon points="340.6,360.6 345.8,351.2 335.4,351.2" fill="#0b7272"/>
<polygon points="344.6,362 349.8,352.7 339.4,352.7" fill="#0b7272"/>
<polygon points="350.5,365.7 355.7,356.3 345.3,356.3" fill="#0b7272"/>
<polygon points="357.1,382.8 362.3,373.4 351.9,373.4" fill="#0b7272"/>
<polygon points="362.4,418.4 367.6,409 357.2,409" fill="#0b7272"/>
<polygon points="367.6,465.7 372.8,456.3 362.4,456.3" fill="#0b7272"/>
<polygon points="372.9,484.2 378.1,474.8 367.7,474.8" fill="#0b7272"/>
<polygon points="378,492.4 383.2,483 372.8,483" fill="#0b7272"/>
<polygon points="382.1,492 387.3,482.7 376.9,482.7" fill="#0b7272"/>
<polygon points="387,492.6 392.2,483.3 381.8,483.3" fill="#0b7272"/>
<polygon points="391.1,493.2 396.3,483.9 385.9,483.9" fill="#0b7272"/>
<polygon points="396,492.8 401.2,483.4 390.8,483.4" fill="#0b7272"/>
<polygon points="400.9,493 406.1,483.6 395.7,483.6" fill="#0b7272"/>
<polygon points="405.1,493.1 410.3,483.7 399.9,483.7" fill="#0b7272"/>
<polygon points="408.5,492.8 413.7,483.5 403.3,483.5" fill="#0b7272"/>
<polygon points="412.2,491.7 417.4,482.4 407,482.4" fill="#0b7272"/>
<polygon points="416.9,492.1 422.1,482.8 411.7,482.8" fill="#0b7272"/>
<polygon points="421,493.6 426.2,484.2 415.8,484.2" fill="#0b7272"/>
<polygon points="425.3,492.5 430.5,483.2 420.1,483.2" fill="#0b7272"/>
<polygon points="429.6,493.1 434.8,483.8 424.4,483.8" fill="#0b7272"/>
<polygon points="434.2,492 439.4,482.6 429,482.6" fill="#0b7272"/>
<polygon points="438.5,492.3 443.7,483 433.3,483" fill="#0b7272"/>
<polygon points="442.4,493.7 447.6,484.3 437.2,484.3" fill="#0b7272"/>
<polygon points="446.6,493.2 451.8,483.8 441.4,483.8" fill="#0b7272"/>
<polygon points="451.2,494.1 456.4,484.7 446,484.7" fill="#0b7272"/>
<polygon points="455.3,493.3 460.5,483.9 450.1,483.9" fill="#0b7272"/>
<polygon points="459.5,493 464.7,483.7 454.3,483.7" fill="#0b7272"/>
<polygon points="464.1,492.9 469.3,483.5 458.9,483.5" fill="#0b7272"/>
<polygon points="468.3,492.9 473.5,483.6 463.1,483.6" fill="#0b7272"/>
<polygon points="473.2,493.5 478.4,484.2 468,484.2" fill="#0b7272"/>
<polygon points="478.1,494.1 483.3,484.8 472.9,484.8" fill="#0b7272"/>
<polygon points="481.9,493.2 487.1,483.8 476.7,483.8" fill="#0b7272"/>
<polygon points="486.8,493.9 492,484.5 481.6,484.5" fill="#0b7272"/>
<polygon points="490.4,492 495.6,482.7 485.2,482.7" fill="#0b7272"/>
<polygon points="494.5,491.9 499.7,482.5 489.3,482.5" fill="#0b7272"/>
<polygon points="498.3,491.9 503.5,482.5 493.1,482.5" fill="#0b7272"/>
<polygon points="502.8,493.7 508,484.4 497.6,484.4" fill="#0b7272"/>
<polygon points="507.6,492.1 512.8,482.7 502.4,482.7" fill="#0b7272"/>
<polygon points="512.2,493.4 517.4,484.1 507,484.1" fill="#0b7272"/>
<polygon points="515.8,494 521,484.6 510.6,484.6" fill="#0b7272"/>
<polygon points="520.8,492.3 526,482.9 515.6,482.9" fill="#0b7272"/>
<polygon points="525.7,492.7 530.9,483.4 520.5,483.4" fill="#0b7272"/>
<polygon points="529.9,494.3 535.1,484.9 524.7,484.9" fill="#0b7272"/>
<polygon points="534.7,492.1 539.9,482.8 529.5,482.8" fill="#0b7272"/>
<polygon points="538.8,493 544,483.7 533.6,483.7" fill="#0b7272"/>
<polygon points="542.7,492.2 547.9,482.8 537.5,482.8" fill="#0b7272"/>
<polygon points="546.6,493.6 551.8,484.2 541.4,484.2" fill="#0b7272"/>
<polygon points="548,488.7 553.2,479.3 542.8,479.3" fill="#0b7272"/>
<polygon points="550,493.1 555.2,483.8 544.8,483.8" fill="#0b7272"/>
<polygon points="554.1,491.7 559.3,482.4 548.9,482.4" fill="#0b7272"/>
<polygon points="558,493.3 563.2,484 552.8,484" fill="#0b7272"/>
<polygon points="562.2,491.9 567.4,482.5 557,482.5" fill="#0b7272"/>
<polygon points="563,487.7 568.2,478.3 557.8,478.3" fill="#0b7272"/>
<polygon points="567.2,493.7 572.4,484.4 562,484.4" fill="#0b7272"/>
<polygon points="572.2,492 577.4,482.6 567,482.6" fill="#0b7272"/>
<polygon points="576,491.8 581.2,482.4 570.8,482.4" fill="#0b7272"/>
<polygon points="580.7,492.4 585.9,483 575.5,483" fill="#0b7272"/>
<polygon points="584.3,492.8 589.5,483.4 579.1,483.4" fill="#0b7272"/>
<polygon points="589.2,493.8 594.4,484.5 584,484.5" fill="#0b7272"/>
<polygon points="593,492.1 598.2,482.7 587.8,482.7" fill="#0b7272"/>
<polygon points="597.9,493.2 603.1,483.8 592.7,483.8" fill="#0b7272"/>
<polygon points="600,489.7 605.2,480.3 594.8,480.3" fill="#0b7272"/>
<polygon points="602.4,491.9 607.6,482.6 597.2,482.6" fill="#0b7272"/>
<polygon points="605.9,493.5 611.1,484.1 600.7,484.1" fill="#0b7272"/>
<polygon points="609.9,491.9 615.1,482.5 604.7,482.5" fill="#0b7272"/>
<polygon points="614.9,493.3 620.1,484 609.7,484" fill="#0b7272"/>
<polyline points="79,361.4 82.4,360.5 85.9,362.4 88.7,362.4 92.2,360.2 94.7,362.7 97.4,360.6 100,360.9 102.7,363.2 104,371 105.4,366.7 108,378 108.2,365.5 110.8,364.9 111,371 113.2,364.7 115.6,368.4 118.7,365.3 121.7,370.9 124.2,370.5 126,378 127.1,369 129.6,390 130.5,369.1 132,378 133.5,371.8 137.1,370.3 140.5,373.5 142,376 143.7,372.2 145,380 146.5,370.5 149,371.2 152.3,373.2 154.9,371.8 158.3,376.6 161.5,372 164.2,372 167.2,370.9 170.1,371.5 173.7,376.6 175,377 176.7,372.2 177.7,382 180,377 180.3,373.3 183.1,371.7 186,375.4 189,374 192,373.1 194.7,374 197.6,373.6 200,374.9 202.7,376.3 205.7,376.8 208.9,376 212.3,373.4 215.1,377.8 217.7,376.4 220.9,373.2 223.3,379.7 224.6,396.9 228.3,433.7 231.9,468.1 235.6,482.9 239.3,487.8 242,491 244.9,489.9 248.1,485.8 250.9,488.3 254.1,490.4 257.3,488.9 260.5,489.5 263.5,486.5 265.8,485.8 268.4,485.6 271.6,488.7 274.6,489.2 277.6,488.2 279.8,490.3 282.9,488.3 285.7,489.4 288,489.9 290.6,485.4 293.1,489.9 295.6,489.9 298.9,488.3 301.6,488.2 304.6,490.1 307.5,489.3 309.8,485.9 312.4,490 314.9,488.8 317.2,485.3 319.7,489.5 322.7,489.5 325.3,488.4 328.1,488.1 330.4,491 332.9,491.6 336.2,485 338.9,490.5 342.3,488 344.8,486.3 348.1,486.3 351,485.9 353.8,491.4 356.2,490.5 359,490.9 362.1,486.5 365.3,488.2 367.6,484.9 370.4,488 372.9,485.9 375.6,487 378.7,484.9 381.8,490.6 384.2,491.2 387.2,491 389.8,487.4 392.5,491.7 395.4,487.4 398.1,486.8 400.4,485.6 403.6,486.8 406.9,486.6 409.4,488.4 411.8,487.4 415.2,490.9 418.3,489.2 421.6,491.3 424.4,489.8 426.7,489.9 429.5,490 432.4,486.8 434.7,491.2 437.1,488.1 439.7,486.9 442.8,491.5 445.3,489.4 447.9,488.7 450.6,486 453,486.3 456.3,488.3 458.8,491.1 462.1,488 464.5,486.2 466.8,487.2 469.2,486.5 471.7,488.8 475,490 477.7,487.7 480.5,487.5 483.1,485.3" fill="none" stroke="#f0f" stroke-width="3.3" stroke-linejoin="round"/>
<polygon points="73.4,361.4 83.5,355.8 83.5,367" fill="#f0f"/>
<polygon points="76.8,360.5 86.9,354.9 86.9,366.1" fill="#f0f"/>
<polygon points="80.3,362.4 90.3,356.8 90.3,368" fill="#f0f"/>
<polygon points="83.1,362.4 93.1,356.8 93.1,368" fill="#f0f"/>
<polygon points="86.6,360.2 96.7,354.6 96.7,365.8" fill="#f0f"/>
<polygon points="89.1,362.7 99.2,357.1 99.2,368.3" fill="#f0f"/>
<polygon points="91.8,360.6 101.9,355 101.9,366.2" fill="#f0f"/>
<polygon points="94.4,360.9 104.5,355.3 104.5,366.5" fill="#f0f"/>
<polygon points="97.1,363.2 107.1,357.6 107.1,368.8" fill="#f0f"/>
<polygon points="98.4,371 108.5,365.4 108.5,376.6" fill="#f0f"/>
<polygon points="99.8,366.7 109.9,361.1 109.9,372.3" fill="#f0f"/>
<polygon points="102.4,378 112.5,372.4 112.5,383.6" fill="#f0f"/>
<polygon points="102.6,365.5 112.7,359.9 112.7,371.1" fill="#f0f"/>
<polygon points="105.2,364.9 115.3,359.3 115.3,370.5" fill="#f0f"/>
<polygon points="105.4,371 115.5,365.4 115.5,376.6" fill="#f0f"/>
<polygon points="107.6,364.7 117.7,359.1 117.7,370.3" fill="#f0f"/>
<polygon points="110,368.4 120.1,362.8 120.1,374" fill="#f0f"/>
<polygon points="113.1,365.3 123.2,359.7 123.2,370.9" fill="#f0f"/>
<polygon points="116.1,370.9 126.1,365.3 126.1,376.5" fill="#f0f"/>
<polygon points="118.6,370.5 128.7,364.9 128.7,376.1" fill="#f0f"/>
<polygon points="120.4,378 130.5,372.4 130.5,383.6" fill="#f0f"/>
<polygon points="121.5,369 131.6,363.4 131.6,374.6" fill="#f0f"/>
<polygon points="124,390 134.1,384.4 134.1,395.6" fill="#f0f"/>
<polygon points="124.9,369.1 135,363.5 135,374.7" fill="#f0f"/>
<polygon points="126.4,378 136.5,372.4 136.5,383.6" fill="#f0f"/>
<polygon points="127.9,371.8 138,366.2 138,377.4" fill="#f0f"/>
<polygon points="131.5,370.3 141.6,364.7 141.6,375.9" fill="#f0f"/>
<polygon points="134.9,373.5 145,367.9 145,379.1" fill="#f0f"/>
<polygon points="136.4,376 146.5,370.4 146.5,381.6" fill="#f0f"/>
<polygon points="138.1,372.2 148.1,366.6 148.1,377.8" fill="#f0f"/>
<polygon points="139.4,380 149.5,374.4 149.5,385.6" fill="#f0f"/>
<polygon points="140.9,370.5 151,364.9 151,376.1" fill="#f0f"/>
<polygon points="143.4,371.2 153.5,365.6 153.5,376.8" fill="#f0f"/>
<polygon points="146.7,373.2 156.8,367.6 156.8,378.8" fill="#f0f"/>
<polygon points="149.3,371.8 159.4,366.2 159.4,377.4" fill="#f0f"/>
<polygon points="152.7,376.6 162.8,371 162.8,382.2" fill="#f0f"/>
<polygon points="155.9,372 166,366.4 166,377.6" fill="#f0f"/>
<polygon points="158.6,372 168.7,366.4 168.7,377.6" fill="#f0f"/>
<polygon points="161.6,370.9 171.6,365.3 171.6,376.5" fill="#f0f"/>
<polygon points="164.5,371.5 174.6,365.9 174.6,377.1" fill="#f0f"/>
<polygon points="168.1,376.6 178.1,371 178.1,382.2" fill="#f0f"/>
<polygon points="169.4,377 179.5,371.4 179.5,382.6" fill="#f0f"/>
<polygon points="171.1,372.2 181.2,366.6 181.2,377.8" fill="#f0f"/>
<polygon points="172.1,382 182.2,376.4 182.2,387.6" fill="#f0f"/>
<polygon points="174.4,377 184.5,371.4 184.5,382.6" fill="#f0f"/>
<polygon points="174.7,373.3 184.8,367.7 184.8,378.9" fill="#f0f"/>
<polygon points="177.5,371.7 187.6,366.1 187.6,377.3" fill="#f0f"/>
<polygon points="180.4,375.4 190.4,369.8 190.4,381" fill="#f0f"/>
<polygon points="183.4,374 193.4,368.4 193.4,379.6" fill="#f0f"/>
<polygon points="186.4,373.1 196.4,367.5 196.4,378.7" fill="#f0f"/>
<polygon points="189.1,374 199.2,368.4 199.2,379.6" fill="#f0f"/>
<polygon points="192,373.6 202,368 202,379.2" fill="#f0f"/>
<polygon points="194.4,374.9 204.5,369.3 204.5,380.5" fill="#f0f"/>
<polygon points="197.1,376.3 207.2,370.7 207.2,381.9" fill="#f0f"/>
<polygon points="200.1,376.8 210.2,371.2 210.2,382.4" fill="#f0f"/>
<polygon points="203.3,376 213.4,370.4 213.4,381.6" fill="#f0f"/>
<polygon points="206.7,373.4 216.8,367.8 216.8,379" fill="#f0f"/>
<polygon points="209.5,377.8 219.6,372.2 219.6,383.4" fill="#f0f"/>
<polygon points="212.1,376.4 222.2,370.8 222.2,382" fill="#f0f"/>
<polygon points="215.3,373.2 225.4,367.6 225.4,378.8" fill="#f0f"/>
<polygon points="217.7,379.7 227.8,374.1 227.8,385.3" fill="#f0f"/>
<polygon points="219,396.9 229.1,391.3 229.1,402.5" fill="#f0f"/>
<polygon points="222.7,433.7 232.8,428.1 232.8,439.3" fill="#f0f"/>
<polygon points="226.3,468.1 236.4,462.5 236.4,473.7" fill="#f0f"/>
<polygon points="230,482.9 240.1,477.3 240.1,488.5" fill="#f0f"/>
<polygon points="233.7,487.8 243.8,482.2 243.8,493.4" fill="#f0f"/>
<polygon points="236.4,491 246.5,485.4 246.5,496.6" fill="#f0f"/>
<polygon points="239.3,489.9 249.4,484.3 249.4,495.5" fill="#f0f"/>
<polygon points="242.5,485.8 252.6,480.2 252.6,491.4" fill="#f0f"/>
<polygon points="245.3,488.3 255.4,482.7 255.4,493.9" fill="#f0f"/>
<polygon points="248.5,490.4 258.6,484.8 258.6,496" fill="#f0f"/>
<polygon points="251.7,488.9 261.7,483.3 261.7,494.5" fill="#f0f"/>
<polygon points="254.9,489.5 265,483.9 265,495.1" fill="#f0f"/>
<polygon points="257.9,486.5 268,480.9 268,492.1" fill="#f0f"/>
<polygon points="260.2,485.8 270.3,480.2 270.3,491.4" fill="#f0f"/>
<polygon points="262.8,485.6 272.9,480 272.9,491.2" fill="#f0f"/>
<polygon points="266,488.7 276.1,483.1 276.1,494.3" fill="#f0f"/>
<polygon points="269,489.2 279,483.6 279,494.8" fill="#f0f"/>
<polygon points="272,488.2 282,482.6 282,493.8" fill="#f0f"/>
<polygon points="274.2,490.3 284.3,484.7 284.3,495.9" fill="#f0f"/>
<polygon points="277.3,488.3 287.4,482.7 287.4,493.9" fill="#f0f"/>
<polygon points="280.1,489.4 290.2,483.8 290.2,495" fill="#f0f"/>
<polygon points="282.4,489.9 292.5,484.3 292.5,495.5" fill="#f0f"/>
<polygon points="285,485.4 295,479.8 295,491" fill="#f0f"/>
<polygon points="287.5,489.9 297.6,484.3 297.6,495.5" fill="#f0f"/>
<polygon points="290,489.9 300,484.3 300,495.5" fill="#f0f"/>
<polygon points="293.3,488.3 303.4,482.7 303.4,493.9" fill="#f0f"/>
<polygon points="296,488.2 306,482.6 306,493.8" fill="#f0f"/>
<polygon points="299,490.1 309,484.5 309,495.7" fill="#f0f"/>
<polygon points="301.9,489.3 312,483.7 312,494.9" fill="#f0f"/>
<polygon points="304.2,485.9 314.3,480.3 314.3,491.5" fill="#f0f"/>
<polygon points="306.8,490 316.8,484.4 316.8,495.6" fill="#f0f"/>
<polygon points="309.3,488.8 319.4,483.2 319.4,494.4" fill="#f0f"/>
<polygon points="311.6,485.3 321.7,479.7 321.7,490.9" fill="#f0f"/>
<polygon points="314.1,489.5 324.2,483.9 324.2,495.1" fill="#f0f"/>
<polygon points="317.1,489.5 327.2,483.9 327.2,495.1" fill="#f0f"/>
<polygon points="319.7,488.4 329.8,482.8 329.8,494" fill="#f0f"/>
<polygon points="322.5,488.1 332.5,482.5 332.5,493.7" fill="#f0f"/>
<polygon points="324.8,491 334.9,485.4 334.9,496.6" fill="#f0f"/>
<polygon points="327.3,491.6 337.4,486 337.4,497.2" fill="#f0f"/>
<polygon points="330.6,485 340.7,479.4 340.7,490.6" fill="#f0f"/>
<polygon points="333.3,490.5 343.4,484.9 343.4,496.1" fill="#f0f"/>
<polygon points="336.7,488 346.8,482.4 346.8,493.6" fill="#f0f"/>
<polygon points="339.2,486.3 349.3,480.7 349.3,491.9" fill="#f0f"/>
<polygon points="342.5,486.3 352.6,480.7 352.6,491.9" fill="#f0f"/>
<polygon points="345.4,485.9 355.5,480.3 355.5,491.5" fill="#f0f"/>
<polygon points="348.2,491.4 358.3,485.8 358.3,497" fill="#f0f"/>
<polygon points="350.6,490.5 360.7,484.9 360.7,496.1" fill="#f0f"/>
<polygon points="353.4,490.9 363.5,485.3 363.5,496.5" fill="#f0f"/>
<polygon points="356.5,486.5 366.5,480.9 366.5,492.1" fill="#f0f"/>
<polygon points="359.7,488.2 369.8,482.6 369.8,493.8" fill="#f0f"/>
<polygon points="362,484.9 372,479.3 372,490.5" fill="#f0f"/>
<polygon points="364.8,488 374.8,482.4 374.8,493.6" fill="#f0f"/>
<polygon points="367.3,485.9 377.4,480.3 377.4,491.5" fill="#f0f"/>
<polygon points="370,487 380,481.4 380,492.6" fill="#f0f"/>
<polygon points="373.1,484.9 383.2,479.3 383.2,490.5" fill="#f0f"/>
<polygon points="376.2,490.6 386.3,485 386.3,496.2" fill="#f0f"/>
<polygon points="378.6,491.2 388.7,485.6 388.7,496.8" fill="#f0f"/>
<polygon points="381.6,491 391.7,485.4 391.7,496.6" fill="#f0f"/>
<polygon points="384.2,487.4 394.3,481.8 394.3,493" fill="#f0f"/>
<polygon points="386.9,491.7 397,486.1 397,497.3" fill="#f0f"/>
<polygon points="389.8,487.4 399.9,481.8 399.9,493" fill="#f0f"/>
<polygon points="392.5,486.8 402.6,481.2 402.6,492.4" fill="#f0f"/>
<polygon points="394.8,485.6 404.9,480 404.9,491.2" fill="#f0f"/>
<polygon points="398,486.8 408.1,481.2 408.1,492.4" fill="#f0f"/>
<polygon points="401.3,486.6 411.3,481 411.3,492.2" fill="#f0f"/>
<polygon points="403.8,488.4 413.9,482.8 413.9,494" fill="#f0f"/>
<polygon points="406.2,487.4 416.3,481.8 416.3,493" fill="#f0f"/>
<polygon points="409.6,490.9 419.6,485.3 419.6,496.5" fill="#f0f"/>
<polygon points="412.7,489.2 422.8,483.6 422.8,494.8" fill="#f0f"/>
<polygon points="416,491.3 426.1,485.7 426.1,496.9" fill="#f0f"/>
<polygon points="418.8,489.8 428.9,484.2 428.9,495.4" fill="#f0f"/>
<polygon points="421.1,489.9 431.2,484.3 431.2,495.5" fill="#f0f"/>
<polygon points="423.9,490 433.9,484.4 433.9,495.6" fill="#f0f"/>
<polygon points="426.8,486.8 436.9,481.2 436.9,492.4" fill="#f0f"/>
<polygon points="429.1,491.2 439.2,485.6 439.2,496.8" fill="#f0f"/>
<polygon points="431.5,488.1 441.6,482.5 441.6,493.7" fill="#f0f"/>
<polygon points="434.1,486.9 444.2,481.3 444.2,492.5" fill="#f0f"/>
<polygon points="437.2,491.5 447.3,485.9 447.3,497.1" fill="#f0f"/>
<polygon points="439.7,489.4 449.8,483.8 449.8,495" fill="#f0f"/>
<polygon points="442.3,488.7 452.4,483.1 452.4,494.3" fill="#f0f"/>
<polygon points="445,486 455.1,480.4 455.1,491.6" fill="#f0f"/>
<polygon points="447.4,486.3 457.5,480.7 457.5,491.9" fill="#f0f"/>
<polygon points="450.7,488.3 460.7,482.7 460.7,493.9" fill="#f0f"/>
<polygon points="453.2,491.1 463.2,485.5 463.2,496.7" fill="#f0f"/>
<polygon points="456.5,488 466.6,482.4 466.6,493.6" fill="#f0f"/>
<polygon points="458.9,486.2 469,480.6 469,491.8" fill="#f0f"/>
<polygon points="461.2,487.2 471.3,481.6 471.3,492.8" fill="#f0f"/>
<polygon points="463.6,486.5 473.7,480.9 473.7,492.1" fill="#f0f"/>
<polygon points="466.1,488.8 476.2,483.2 476.2,494.4" fill="#f0f"/>
<polygon points="469.4,490 479.4,484.4 479.4,495.6" fill="#f0f"/>
<polygon points="472.1,487.7 482.1,482.1 482.1,493.3" fill="#f0f"/>
<polygon points="474.9,487.5 485,481.9 485,493.1" fill="#f0f"/>
<polygon points="477.5,485.3 487.6,479.7 487.6,490.9" fill="#f0f"/>
</g>
<g style="mix-blend-mode:multiply"><path d="M497 379.5L218 438.4" stroke="#b9b9b9" stroke-width="6" fill="none"/><polygon points="209.8,441 219.8,430.2 217.5,438.8 223.4,447.6" fill="#b9b9b9"/></g>
<path d="M520.4 289.9H554.3" stroke="#000" stroke-width="2.6"/>
<rect x="533.4" y="285.8" width="8.2" height="8.2" fill="#000"/>
<text transform="translate(558.8,294.7) scale(0.945,1)" font-family="Liberation Sans" font-size="23.5" fill="#000">1.0%</text>
<path d="M520.4 317.4H554.3" stroke="#f00" stroke-width="2.6"/>
<circle cx="537.5" cy="317.4" r="4.7" fill="#f00"/>
<text transform="translate(558.8,322.2) scale(0.945,1)" font-family="Liberation Sans" font-size="23.5" fill="#000">2.4%</text>
<path d="M520.4 345.3H554.3" stroke="#00f" stroke-width="2.6"/>
<polygon points="537.5,340.1 542.7,349.5 532.3,349.5" fill="#00f"/>
<text transform="translate(558.8,350.1) scale(0.945,1)" font-family="Liberation Sans" font-size="23.5" fill="#000">4.8%</text>
<path d="M520.4 372.6H554.3" stroke="#0b7272" stroke-width="2.6"/>
<polygon points="537.5,377.8 542.7,368.4 532.3,368.4" fill="#0b7272"/>
<text transform="translate(558.8,377.4) scale(0.945,1)" font-family="Liberation Sans" font-size="23.5" fill="#000">12.5%</text>
<path d="M520.4 400.3H554.3" stroke="#f0f" stroke-width="2.6"/>
<polygon points="532.3,400.3 541.7,395.1 541.7,405.5" fill="#f0f"/>
<text transform="translate(558.8,405.1) scale(0.945,1)" font-family="Liberation Sans" font-size="23.5" fill="#000">33.3%</text></svg>
</body></html>
